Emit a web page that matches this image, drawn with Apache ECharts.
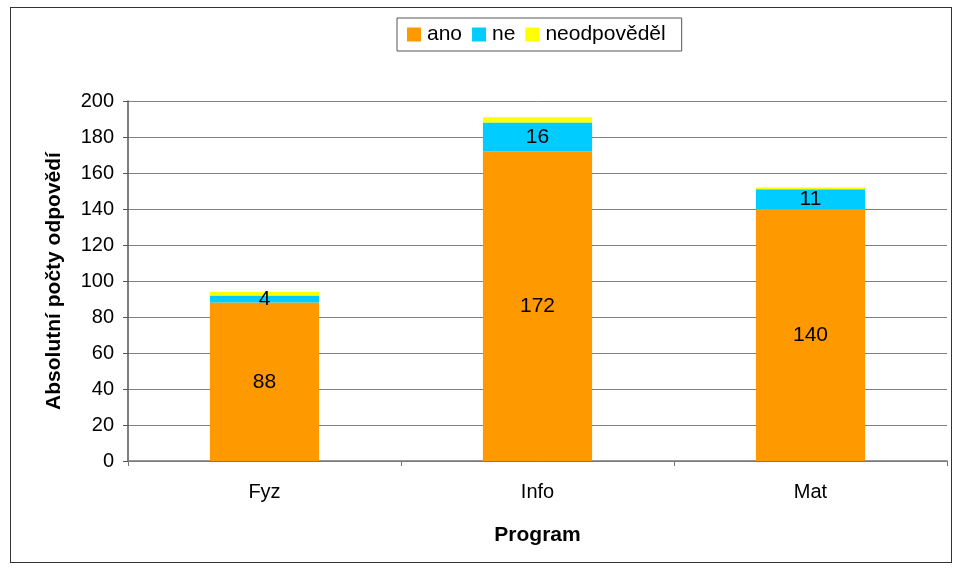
<!DOCTYPE html>
<html>
<head>
<meta charset="utf-8">
<script src="https://cdn.jsdelivr.net/npm/echarts@6/dist/echarts.min.js"></script>
<style>
html,body{margin:0;padding:0;background:#fff;}
#frame{position:absolute;left:10px;top:7px;width:940px;height:554px;border:1px solid #333;}
#c{position:absolute;left:0;top:0;width:962px;height:571px;}
</style>
</head>
<body>
<div id="frame"></div>
<div id="c"></div>
<script>
const categories = ['Fyz', 'Info', 'Mat'];
const seriesNames = ['ano', 'ne', 'neodpověděl'];
const anoValues = [88, 172, 140];
const neValues = [4, 16, 11];
const neodpovedelValues = [2, 3, 1];
const yTicks = [0, 200, 20];

const chart = echarts.init(document.getElementById('c'));
const font = 'Liberation Sans, Arial, sans-serif';
const labelStyle = {show: true, position: 'inside', color: '#000', fontSize: 21, fontFamily: font};
chart.setOption({
  animation: false,
  textStyle: {fontFamily: font},
  legend: {
    data: seriesNames,
    top: 18, left: 397,
    padding: [6, 16, 6, 10],
    borderColor: '#555', borderWidth: 1,
    icon: 'rect', itemWidth: 14, itemHeight: 14, itemGap: 10,
    textStyle: {fontSize: 21, color: '#000', fontFamily: font, padding: [0, 0, 0, 1]}
  },
  grid: {left: 128, right: 15, top: 101, bottom: 110},
  xAxis: {
    type: 'category', data: categories,
    name: 'Program', nameLocation: 'middle', nameGap: 64,
    nameTextStyle: {fontSize: 21, fontWeight: 'bold', color: '#000', fontFamily: font},
    axisLine: {lineStyle: {color: '#777', width: 1.5}},
    axisTick: {show: true, length: 5, lineStyle: {color: '#777'}},
    axisLabel: {fontSize: 20, color: '#000', margin: 21, fontFamily: font}
  },
  yAxis: {
    type: 'value', min: yTicks[0], max: yTicks[1], interval: yTicks[2],
    name: 'Absolutní počty odpovědí', nameLocation: 'middle', nameGap: 63,
    nameTextStyle: {fontSize: 21, fontWeight: 'bold', color: '#000', fontFamily: font},
    axisLine: {show: true, lineStyle: {color: '#555', width: 1.5}},
    axisTick: {show: true, length: 5, lineStyle: {color: '#555'}},
    axisLabel: {fontSize: 20, color: '#000', margin: 14, fontFamily: font},
    splitLine: {lineStyle: {color: '#808080', width: 1}}
  },
  series: [
    {name: seriesNames[0], type: 'bar', stack: 's', data: anoValues, barWidth: '40%',
     itemStyle: {color: '#FF9900'}, label: labelStyle},
    {name: seriesNames[1], type: 'bar', stack: 's', data: neValues, barWidth: '40%',
     itemStyle: {color: '#00CCFF'}, label: labelStyle},
    {name: seriesNames[2], type: 'bar', stack: 's', data: neodpovedelValues, barWidth: '40%',
     itemStyle: {color: '#FFFF00'}, label: {show: false}}
  ]
});
</script>
</body>
</html>
